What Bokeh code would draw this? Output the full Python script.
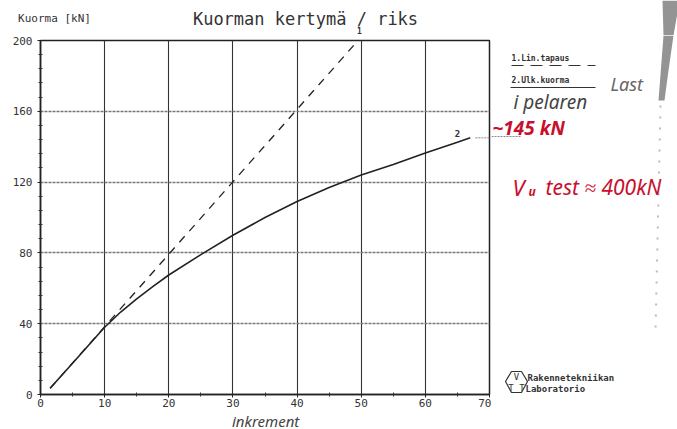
from bokeh.plotting import figure
from bokeh.models import Range1d, FixedTicker, ColumnDataSource
from bokeh.layouts import column, row
from bokeh.core.properties import value
from bokeh.embed import file_html
from bokeh.resources import INLINE

# ---- data ----
increment_ulk = [1.5, 5, 10, 12.5, 15, 17.5, 20, 25, 30, 35, 40, 45, 50, 55, 60, 65, 67]
load_ulk = [3.5, 17.7, 38, 46.6, 54, 61, 67.5, 79, 90, 100, 109, 117, 124, 130,
            136.5, 142.5, 145]
increment_lin = [1.5, 49.5]
load_lin = [3.5, 200]
x_ticks = [0, 10, 20, 30, 40, 50, 60, 70]
x_minor = [5, 15, 25, 35, 45, 55, 65]
y_ticks = [0, 40, 80, 120, 160, 200]
y_minor = [8, 16, 24, 32, 48, 56, 64, 72, 88, 96, 104, 112, 128, 136, 144, 152,
           168, 176, 184, 192]
end_load = 145

MONO = "DejaVu Sans Mono"
HAND = "Noto Sans"
RED = "#c8102e"
INK = "#333333"


def blank(w, h, xr, yr):
    f = figure(width=w, height=h, x_range=xr, y_range=yr, output_backend="svg",
               toolbar_location=None, x_axis_type=None, y_axis_type=None,
               min_border=0, background_fill_color="white", border_fill_color="white")
    f.outline_line_color = None
    f.grid.visible = False
    return f


def txt(f, x, y, s, size, font=MONO, color=INK, style="normal", align="left",
        baseline="middle"):
    f.text(x=[x], y=[y], text=[s], text_font=value(font), text_font_size=size,
           text_color=color, text_font_style=style, text_align=align,
           text_baseline=baseline)


# ---------------- main plot ----------------
p = figure(width=491, height=376, x_range=Range1d(0, 70), y_range=Range1d(0, 200),
           output_backend="svg", toolbar_location=None,
           min_border_left=40, min_border_right=2, min_border_top=5, min_border_bottom=17,
           background_fill_color="white", border_fill_color="white")
p.outline_line_color = "#222222"
p.outline_line_width = 1.5

for ax, ticks, minor in ((p.xaxis[0], x_ticks, x_minor), (p.yaxis[0], y_ticks, y_minor)):
    ax.ticker = FixedTicker(ticks=ticks, minor_ticks=minor)
    ax.axis_line_color = "#222222"
    ax.axis_line_width = 1.5
    ax.major_tick_line_color = "#222222"
    ax.major_tick_in = 0
    ax.major_tick_out = 3
    ax.minor_tick_line_color = "#333333"
    ax.minor_tick_in = 2
    ax.minor_tick_out = 2
    ax.major_label_text_font = MONO
    ax.major_label_text_font_size = "11px"
    ax.major_label_text_color = INK
p.yaxis[0].major_label_standoff = 5
p.xaxis[0].major_label_standoff = 1

p.xgrid.ticker = FixedTicker(ticks=x_ticks)
p.ygrid.ticker = FixedTicker(ticks=y_ticks)
p.xgrid.grid_line_color = "#333333"
p.xgrid.grid_line_width = 1.1
p.ygrid.grid_line_color = "#777777"
p.ygrid.grid_line_width = 1.3
p.ygrid.grid_line_dash = "3 1"

src_ulk = ColumnDataSource(dict(x=increment_ulk, y=load_ulk))
src_lin = ColumnDataSource(dict(x=increment_lin, y=load_lin))
p.line("x", "y", source=src_lin, line_color="#222222", line_width=1.3, line_dash="8 7")
p.line("x", "y", source=src_ulk, line_color="#222222", line_width=1.6)
# leader from curve end toward the note
p.line(x=[increment_ulk[-1] + 0.8, 70], y=[end_load, end_load], line_color="#888888",
       line_width=1, line_dash="2 1")
txt(p, increment_ulk[-1] - 2, end_load + 2.5, "2", "9px", style="bold", align="center")

# ---------------- top strip ----------------
top = blank(677, 35, Range1d(0, 677), Range1d(35, 0))
txt(top, 305, 18, "Kuorman kertymä / riks", "17px", align="center")
txt(top, 54, 18, "Kuorma [kN]", "11px", align="center")
txt(top, 359, 30, "1", "8px", style="bold", align="center")
top.patch(x=[662, 677, 677, 673, 663], y=[0, 0, 12, 35, 35], fill_color="#3c3c3c",
          fill_alpha=0.55, line_alpha=0)

# ---------------- bottom strip (frame aligned with the main plot's frame) ----------------
bottom = blank(491, 18, p.x_range, Range1d(429, 411))
txt(bottom, 35.1, 420, "inkrement", "15px", font=HAND, color="#444444", style="italic",
    align="center")

# ---------------- right panel ----------------
right = blank(186, 394, Range1d(491, 677), Range1d(429, 35))
txt(right, 511, 58, "1.Lin.tapaus", "8px", style="bold")
right.line(x=[511, 595], y=[65, 65], line_color=INK, line_width=1.2, line_dash="12 7")
txt(right, 511, 80, "2.Ulk.kuorma", "8px", style="bold")
right.line(x=[510, 595], y=[87, 87], line_color=INK, line_width=1.2)
txt(right, 610, 83, "Last", "18px", font=HAND, color="#666666", style="italic")
txt(right, 513, 101, "i pelaren", "19px", font=HAND, color="#444444", style="italic")
right.line(x=[491, 520], y=[136, 136], line_color="#888888", line_width=1, line_dash="2 1")
txt(right, 492, 127, "~145 kN", "19px", font=HAND, color=RED, style="bold italic")
txt(right, 512, 186, "V", "22px", font=HAND, color=RED, style="italic")
txt(right, 528, 191, "u", "12px", font=HAND, color=RED, style="bold italic")
txt(right, 545, 186, "test ≈ 400kN", "21px", font=HAND, color=RED, style="italic")
# VTT logo
right.patch(x=[505, 511, 521, 527, 521, 511], y=[381, 371, 371, 381, 392, 392],
            fill_alpha=0, line_color=INK, line_width=1.2)
txt(right, 516, 376, "V", "9px", align="center")
txt(right, 516, 387, "T T", "9px", align="center")
txt(right, 527, 377, "Rakennetekniikan", "9px", style="bold")
txt(right, 525, 388, "Laboratorio", "9px", style="bold")
# scanner edge
right.patch(x=[663, 673, 668, 664, 658], y=[35, 35, 70, 100, 100], fill_color="#3c3c3c",
            fill_alpha=0.55, line_alpha=0)
right.line(x=[660, 655], y=[105, 330], line_color="#777777", line_alpha=0.5,
           line_width=2, line_dash="2 9")

layout = column(top, row(column(p, bottom), right))
open("out.html", "w").write(file_html(layout, INLINE))
